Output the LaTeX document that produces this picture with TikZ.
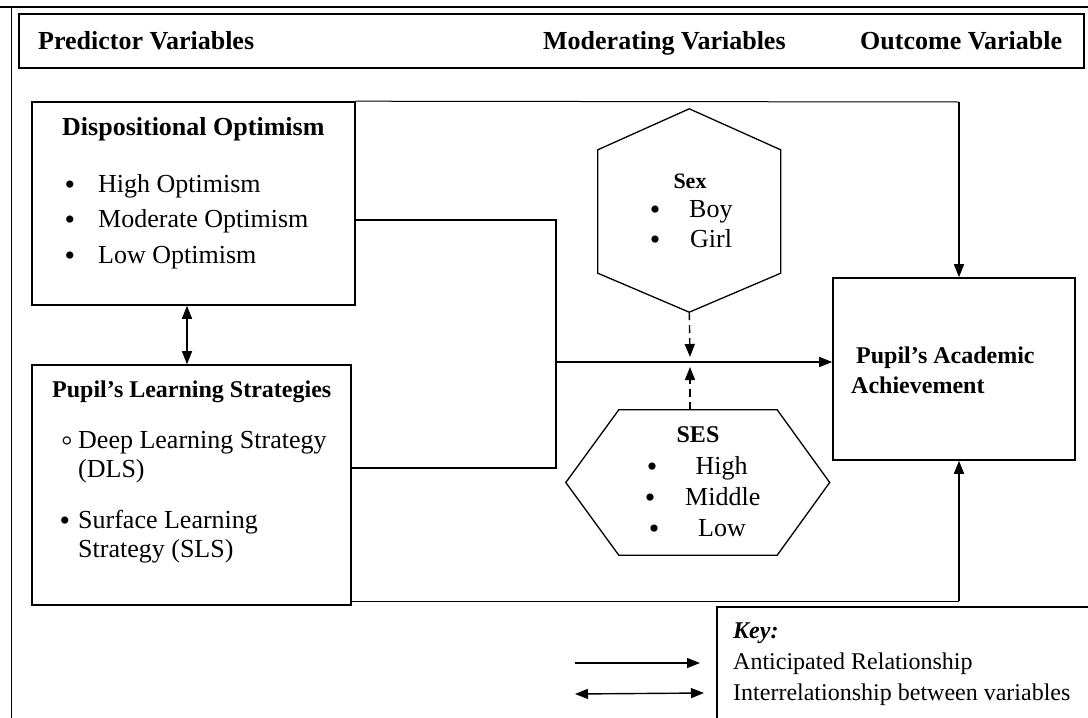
\documentclass[tikz,border=0pt]{standalone}
\usepackage{fontspec}
\setmainfont{Liberation Serif}
\usetikzlibrary{arrows.meta,calc}
\newcommand\hdfont{\fontsize{26}{30}\selectfont\bfseries}
\newcommand\ttlfont{\fontsize{24}{28}\selectfont\bfseries}
\newcommand\bdfont{\fontsize{24}{28}\selectfont}
\newcommand\bxfont{\fontsize{26}{30}\selectfont}
\newcommand\blfont{\fontsize{30}{32}\selectfont}
\begin{document}
\begin{tikzpicture}[x=1pt,y=-1pt,
  box/.style={draw, line width=1.6pt, inner sep=0pt},
  conn/.style={line width=1.4pt},
  thinconn/.style={line width=1pt},
  dsh/.style={dash pattern=on 8pt off 5pt},
  arr/.style={-{Triangle[length=13pt,width=10pt]}},
  dbl/.style={{Triangle[length=13pt,width=10pt]}-{Triangle[length=13pt,width=10pt]}},
  txt/.style={anchor=base west, inner sep=0pt},
  ctxt/.style={anchor=base, inner sep=0pt},
  bul/.style={anchor=center, inner sep=0pt, text height=6pt, text depth=0pt},
  hexline/.style={line width=1.3pt, line join=miter}
]
\useasboundingbox (0,0) rectangle (1088,718);
% outer frame
\draw[line width=1.8pt] (0,7) -- (1088,7);
\draw[line width=1pt] (11,7) -- (11,718);
% header
\node[box, line width=2pt, minimum width=1065pt, minimum height=54pt] (head) at (551.5,41) {};
\node[txt] (h1) at (38,49) {\hdfont Predictor Variables};
\node[txt] (h2) at (543,49) {\hdfont Moderating Variables};
\node[txt] (h3) at (860,49) {\hdfont Outcome Variable};
% boxes
\node[box, minimum width=323pt, minimum height=203pt] (disp) at (193.5,203.5) {};
\node[box, minimum width=319pt, minimum height=240pt] (learn) at (191.5,485) {};
\node[box, minimum width=242pt, minimum height=182pt] (acad) at (954,369) {};
% disp text
\node[txt] (d0) at (62,135) {\fontsize{26}{30}\selectfont\bfseries Dispositional Optimism};
\node[ctxt] (db1) at (70,194) {\blfont •};
\node[txt] (d1) at (98,192) {\bxfont High Optimism};
\node[ctxt] (db2) at (70,229) {\blfont •};
\node[txt] (d2) at (98,227) {\bxfont Moderate Optimism};
\node[ctxt] (db3) at (70,265) {\blfont •};
\node[txt] (d3) at (98,263) {\bxfont Low Optimism};
% learn text
\node[txt] (l0) at (52,397) {\ttlfont Pupil’s Learning Strategies};
\node[ctxt] (lb1) at (67,451) {\fontsize{34}{36}\selectfont ◦};
\node[txt] (l1) at (78,448) {\bxfont Deep Learning Strategy};
\node[txt] (l2) at (78,477) {\bxfont (DLS)};
\node[ctxt] (lb2) at (65,530) {\blfont •};
\node[txt] (l3) at (78,528) {\bxfont Surface Learning};
\node[txt] (l4) at (78,557) {\bxfont Strategy (SLS)};
% academic text
\node[txt] (a1) at (856,363) {\ttlfont Pupil’s Academic};
\node[txt] (a2) at (851,393) {\ttlfont Achievement};
% Sex hexagon
\node[inner sep=0pt, minimum width=182.5pt, minimum height=203pt] (sex) at (689.25,210.5) {};
\draw[hexline] (sex.north) -- ($(sex.north east)+(0,41)$) -- ($(sex.south east)+(0,-39)$)
  -- (sex.south) -- ($(sex.south west)+(0,-39)$) -- ($(sex.north west)+(0,41)$) -- cycle;
\node[ctxt] (s0) at (690,188) {\fontsize{22}{26}\selectfont\bfseries Sex};
\node[ctxt] (sb1) at (655,219) {\blfont •};
\node[txt] (s1) at (689,217) {\bxfont Boy};
\node[ctxt] (sb2) at (655,249) {\blfont •};
\node[txt] (s2) at (690,247) {\bxfont Girl};
% SES hexagon
\node[inner sep=0pt, minimum width=263.5pt, minimum height=145pt] (ses) at (697.75,482.5) {};
\draw[hexline] ($(ses.north west)+(53,0)$) -- ($(ses.north east)+(-52.5,0)$) -- (ses.east)
  -- ($(ses.south east)+(-52.5,0)$) -- ($(ses.south west)+(53,0)$) -- (ses.west) -- cycle;
\node[ctxt] (e0) at (698,442) {\ttlfont SES};
\node[ctxt] (eb1) at (652,476) {\blfont •};
\node[txt] (e1) at (695.5,474) {\bxfont High};
\node[ctxt] (eb2) at (650,507) {\blfont •};
\node[txt] (e2) at (685,505) {\bxfont Middle};
\node[ctxt] (eb3) at (654,538) {\blfont •};
\node[txt] (e3) at (698,536) {\bxfont Low};
% connectors
\coordinate (j1) at (556,220);
\coordinate (j2) at (556,468);
\coordinate (j3) at (556,362);
\draw[conn] (disp.east |- j1) -- (j1) -- (j2) -- (learn.east |- j2);
\draw[conn,arr] (j3) -- (acad.west |- j3);
\draw[conn,dbl] ([xshift=-6.5pt]disp.south) -- ([xshift=-4.5pt]learn.north);
\coordinate (tr) at (959,102);
\draw[thinconn] (disp.north east) -- (tr);
\draw[conn,arr] (tr) -- (tr |- acad.north);
\coordinate (br) at (959,601);
\draw[thinconn] (learn.east |- br) -- (br);
\draw[conn,arr] (br) -- (br |- acad.south);
\coordinate (sx) at (690,357);
\coordinate (sestop) at (690,410);
\coordinate (sy) at (690,367);
\draw[conn,dsh,arr] (sex.south) -- (sx);
\draw[conn,dsh,arr] (sestop) -- (sy);
% key
\draw[line width=1.3pt] (717,718) -- (717,607) -- (1088,607);
\node[txt] (k0) at (733,638) {\bdfont\bfseries\itshape Key:};
\node[txt] (k1) at (733,669) {\bdfont Anticipated Relationship};
\node[txt] (k2) at (733,700) {\bdfont Interrelationship between variables};
\coordinate (ka1) at (575,663);
\coordinate (ka2) at (700,663);
\coordinate (kb1) at (575,694);
\coordinate (kb2) at (704,693);
\draw[conn,arr] (ka1) -- (ka2);
\draw[conn,dbl] (kb1) -- (kb2);
\end{tikzpicture}
\end{document}
